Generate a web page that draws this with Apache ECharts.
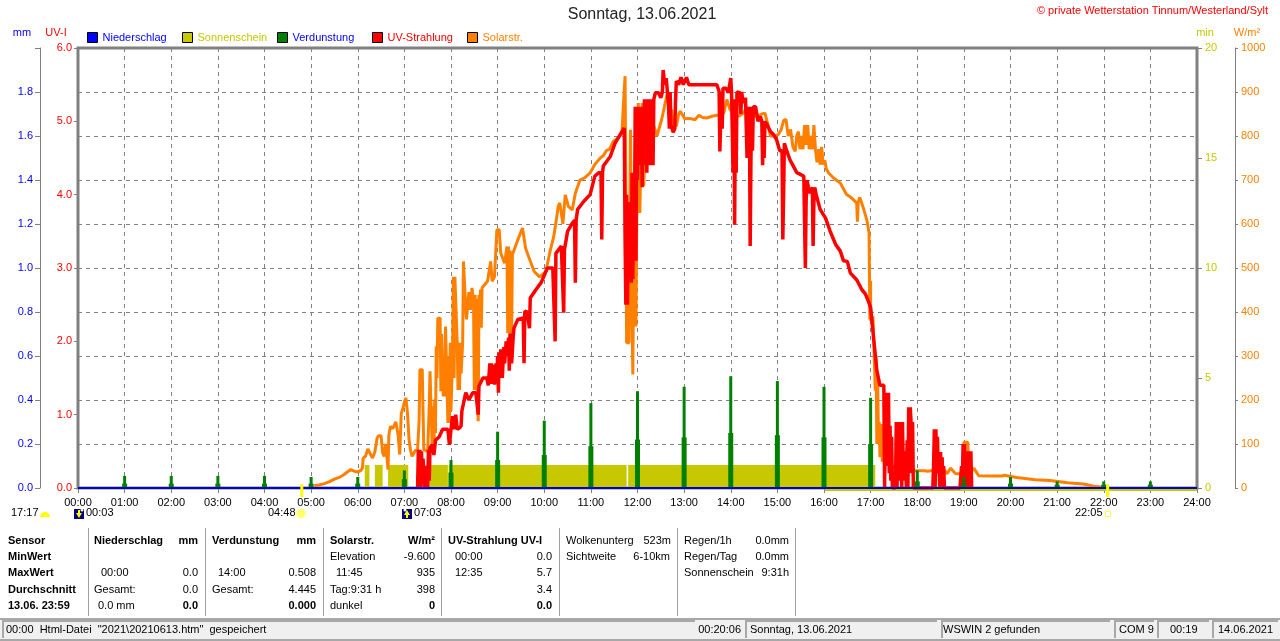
<!DOCTYPE html>
<html><head><meta charset="utf-8">
<style>html,body{margin:0;padding:0;background:#fff}#c{width:1280px;height:641px}</style>
<script src="https://cdn.jsdelivr.net/npm/echarts@6/dist/echarts.min.js"></script>
</head><body><div id="c"></div>
<script>
// minutes since midnight, W/m2
const solarPoints = [[304,5],[310,7],[317,10],[323,14],[330,20],[336,24],[342,30],[347,37],[351,42],[356,38],[360,36],[364,40],[366,45],[367,68],[370,72],[373,89],[376,78],[379,68],[382,82],[385,114],[387,119],[390,119],[392,80],[394,72],[396,100],[399,42],[400,120],[402,140],[405,135],[409,150],[412,120],[414,76],[416,170],[418,180],[420,195],[422,205],[424,170],[426,110],[428,85],[430,72],[434,85],[437,87],[439,155],[440,269],[443,269],[445,87],[450,83],[452,186],[453,265],[455,265],[456,80],[457,186],[458,80],[459,201],[460,125],[461,322],[462,250],[463,386],[466,386],[467,220],[468,350],[470,208],[471,300],[472,208],[473,367],[475,367],[476,148],[477,300],[478,148],[479,330],[480,175],[482,300],[483,480],[484,250],[485,480],[487,480],[488,330],[489,223],[490,330],[491,223],[492,330],[493,260],[495,330],[496,515],[498,515],[499,405],[500,383],[501,405],[503,445],[505,405],[507,455],[509,420],[510,223],[511,439],[512,223],[513,430],[514,200],[515,152],[516,439],[517,364],[518,451],[519,364],[520,455],[527,470],[531,515],[533,470],[536,480],[539,587],[542,587],[544,534],[549,511],[552,549],[553,352],[554,549],[555,352],[556,540],[558,352],[559,530],[566,564],[572,591],[576,545],[579,530],[587,492],[594,480],[602,492],[608,542],[612,570],[615,602],[618,640],[620,648],[624,600],[627,666],[631,640],[636,632],[640,670],[646,700],[652,705],[659,716],[665,735],[672,750],[676,755],[680,767],[684,770],[689,788],[695,795],[700,807],[702,875],[704,936],[705,670],[706,330],[709,330],[710,600],[711,814],[712,500],[714,258],[715,500],[717,746],[718,367],[719,600],[721,875],[723,625],[726,875],[728,686],[732,875],[738,840],[745,800],[751,837],[755,870],[758,894],[760,880],[762,826],[764,860],[766,825],[768,830],[770,822],[773,850],[775,856],[781,839],[787,840],[794,837],[799,847],[804,842],[809,841],[816,845],[822,847],[828,848],[831,852],[835,883],[837,885],[839,860],[845,848],[850,845],[855,850],[859,860],[862,850],[865,845],[874,845],[880,850],[884,852],[888,825],[891,800],[896,800],[901,803],[905,815],[908,835],[911,838],[914,800],[917,815],[920,775],[923,765],[925,800],[927,810],[929,770],[931,800],[933,770],[935,825],[937,780],[939,825],[941,770],[943,800],[945,770],[947,825],[949,770],[951,740],[953,770],[955,735],[957,775],[959,735],[961,745],[963,725],[966,716],[972,705],[981,693],[985,680],[989,667],[995,660],[1002,648],[1003,605],[1004,650],[1006,660],[1010,640],[1015,610],[1018,580],[1019,383],[1020,471],[1020,380],[1023,390],[1025,392],[1026,221],[1027,300],[1028,100],[1029,250],[1030,130],[1031,150],[1032,70],[1033,140],[1034,145],[1035,60],[1036,90],[1038,51],[1043,73],[1047,51],[1054,43],[1066,40],[1080,39],[1090,39],[1091,43],[1093,38],[1114,43],[1118,32],[1123,45],[1129,33],[1138,32],[1140,104],[1145,104],[1147,32],[1153,45],[1159,28],[1176,27],[1189,27],[1192,29],[1208,24],[1232,19],[1251,17],[1273,12],[1294,9],[1307,4],[1322,1]];
// minutes since midnight, UV index
const uvPoints = [[437,0],[438,0.52],[439,0],[440,0.52],[441,0],[442,0.5],[443,0.15],[444,0.4],[446,0],[449,0.3],[450,0],[451,0.52],[452,0.1],[453,0.55],[456,0.59],[458,0.45],[460,0.65],[465,0.7],[469,0.8],[476,0.8],[478,0.59],[480,0.8],[482,0.98],[484,0.8],[486,1.0],[488,0.8],[491,0.82],[493,0.85],[494,1.05],[499,1.3],[503,1.2],[508,1.3],[512,1.3],[515,1.0],[516,1.39],[521,1.5],[526,1.5],[528,1.4],[530,1.7],[531,1.42],[532,1.7],[533,1.42],[535,1.68],[536,1.41],[538,1.7],[539,1.45],[540,1.8],[541,1.3],[542,1.85],[543,1.5],[544,1.89],[546,1.5],[548,1.92],[549,1.7],[551,2.0],[553,1.8],[554,2.05],[555,1.6],[556,2.11],[558,1.7],[560,2.05],[561,2.18],[566,2.3],[573,2.32],[574,1.7],[575,2.41],[578,2.4],[581,2.18],[582,2.59],[589,2.7],[596,2.8],[604,3.0],[611,3.0],[613,3.0],[614,2.0],[615,3.2],[622,3.3],[624,3.3],[625,2.39],[626,3.25],[630,3.5],[636,3.61],[639,3.65],[640,2.8],[641,3.65],[643,3.8],[651,3.91],[659,4.0],[665,4.25],[670,4.3],[673,4.3],[674,3.39],[675,4.3],[676,4.39],[685,4.52],[691,4.7],[700,4.86],[703,4.91],[704,3.43],[705,2.5],[706,4.0],[707,2.5],[708,3.6],[709,3.9],[710,3.0],[711,3.9],[712,2.8],[713,4.3],[714,2.85],[715,4.3],[716,3.1],[717,5.2],[718,3.1],[719,5.2],[720,4.2],[721,5.2],[722,4.4],[723,5.2],[724,4.6],[725,5.2],[726,4.1],[727,5.2],[728,4.5],[729,5.3],[730,4.4],[731,5.3],[732,4.3],[733,5.3],[734,4.5],[735,5.3],[736,4.4],[737,5.3],[738,4.4],[739,5.3],[740,4.4],[741,5.3],[743,5.39],[747,5.39],[750,5.32],[752,5.4],[753,5.7],[755,5.5],[757,5.59],[759,5.59],[760,5.2],[761,4.9],[762,5.4],[763,4.95],[766,4.85],[768,4.9],[769,5.3],[770,5.55],[773,5.5],[776,5.6],[779,5.5],[783,5.6],[786,5.5],[822,5.5],[825,5.41],[826,4.59],[827,4.59],[828,5.4],[829,4.9],[830,5.45],[834,5.45],[837,5.39],[840,5.59],[841,5.4],[842,5.4],[843,4.3],[844,5.3],[845,3.59],[846,5.2],[847,4.3],[848,5.4],[852,5.39],[853,5.1],[854,5.4],[856,5.25],[859,5.32],[860,5.3],[861,4.5],[862,5.2],[863,4.5],[864,5.2],[865,3.3],[866,4.5],[867,5.2],[868,4.6],[869,5.2],[872,5.2],[875,5.0],[878,5.07],[880,5.0],[881,4.4],[882,4.9],[883,4.5],[884,5.0],[887,4.95],[891,4.86],[895,4.82],[899,4.75],[903,4.6],[906,4.6],[907,3.39],[908,4.0],[909,4.7],[912,4.6],[916,4.48],[920,4.4],[925,4.3],[929,4.28],[934,4.25],[935,4.25],[936,3.0],[937,3.9],[938,4.2],[940,4.1],[942,4.02],[945,4.1],[946,3.3],[947,3.9],[948,4.1],[950,4.0],[955,3.8],[962,3.68],[968,3.5],[975,3.32],[981,3.23],[985,3.1],[990,3.09],[994,2.93],[1002,2.84],[1009,2.7],[1013,2.65],[1017,2.55],[1020,2.46],[1022,2.24],[1025,1.92],[1028,1.6],[1032,1.4],[1037,1.4],[1038,0],[1039,1.3],[1040,0.3],[1041,1.3],[1042,0.3],[1043,1.3],[1044,0.2],[1045,0.85],[1046,0.1],[1047,0.7],[1048,0],[1052,0],[1053,0.9],[1054,0],[1055,0.9],[1056,0.2],[1057,0.4],[1058,0.1],[1059,0.9],[1060,0],[1061,0.9],[1062,0.2],[1063,0.1],[1065,0.5],[1066,0],[1067,0.65],[1068,0],[1069,1.1],[1070,0.2],[1071,1.1],[1072,0.9],[1073,0.2],[1074,0.9],[1075,0],[1100,0],[1101,0.3],[1102,0.8],[1103,0],[1104,0.8],[1105,0.2],[1106,0.7],[1107,0.2],[1108,0.33],[1109,0],[1110,0.49],[1111,0],[1112,0.42],[1113,0],[1114,0.3],[1115,0],[1135,0],[1136,0.15],[1137,0.3],[1138,0],[1139,0.6],[1140,0],[1141,0.6],[1142,0.2],[1143,0.5],[1144,0],[1145,0.5],[1146,0],[1147,0.5],[1148,0],[1149,0.5],[1150,0]];
// hour, narrow bar top, wide base top (mm)
const evapHours = [1,2,3,4,5,6,7,8,9,10,11,12,13,14,15,16,17,18,19,20,21,22,23];
const evapTops  = [.055,.055,.055,.055,.05,.05,.08,.127,.256,.306,.386,.44,.46,.508,.486,.46,.41,.08,.05,.05,.03,.03,.03];
const evapBases = [.02,.02,.02,.02,.02,.02,.04,.07,.127,.15,.19,.22,.23,.25,.24,.23,.2,.03,.02,.02,.015,.015,.015];
// sunshine intervals (start minute, end minute, minutes of sun per minute)
const sunStarts = [369,382,399,438,452,477,708];
const sunEnds   = [375,392,425,441,476,706,1026];
const sunLevels = [1.05,1.05,1.05,1.05,1.05,1.05,1.05];
const rainPoints = [[0,0],[1440,0]];
const sunriseMinute = 288, sunsetMinute = 1325;

const FF = '"Liberation Sans",Arial,sans-serif';
const C = {blue:'#0000ff',olive:'#c8c800',green:'#008000',red:'#ff0000',orange:'#ff8000',grid:'#808080',yellow:'#ffff00'};
const legendItems = [['Niederschlag',C.blue,C.blue,87],['Sonnenschein',C.olive,C.olive,182],['Verdunstung',C.green,C.blue,277],['UV-Strahlung',C.red,C.red,372],['Solarstr.',C.orange,C.orange,467]];

const g = [];
function T(x,y,text,o){o=o||{};g.push({type:'text',silent:true,z:50,style:{x,y,text,fill:o.c||'#000',font:(o.b?'bold ':'')+(o.s||11)+'px '+FF,textAlign:o.a||'left',textVerticalAlign:'middle'}});}
function R(x,y,w,h,fill,stroke){g.push({type:'rect',silent:true,z:40,shape:{x,y,width:w,height:h},style:{fill:fill,stroke:stroke||null,lineWidth:1}});}
T(642,15,'Sonntag, 13.06.2021',{a:'center',s:16,c:'#222'});
T(1268,11,'© private Wetterstation Tinnum/Westerland/Sylt',{a:'right',c:C.red,s:11});
T(22,33,'mm',{c:C.blue,a:'center'});T(56,33,'UV-I',{c:C.red,a:'center'});T(1205,33,'min',{c:C.olive,a:'center'});T(1247,33,'W/m²',{c:C.orange,a:'center'});
// sun/moon row
T(11,513,'17:17');g.push({type:'sector',silent:true,z:50,shape:{cx:45,cy:517,r:5,r0:0,startAngle:Math.PI,endAngle:2*Math.PI},style:{fill:C.yellow}});
function moon(x,up){R(x,509,10,10,'#000080');g.push({type:'polygon',silent:true,z:51,shape:{points:up?[[x+5,510],[x+8,515],[x+6,515],[x+6,518],[x+4,518],[x+4,515],[x+2,515]]:[[x+5,518],[x+8,513],[x+6,513],[x+6,510],[x+4,510],[x+4,513],[x+2,513]]},style:{fill:'#ffff00'}});g.push({type:'circle',silent:true,z:52,shape:{cx:x+(up?3:8),cy:510,r:1.5},style:{fill:'#fff'}});}
moon(74,false);T(86,513,'00:03');T(268,513,'04:48');
g.push({type:'circle',silent:true,z:50,shape:{cx:301,cy:513.5,r:4.5},style:{fill:'#ffff66',stroke:'#ffffaa',lineWidth:1.5}});
moon(402,true);T(414,513,'07:03');T(1075,513,'22:05');
R(1105.5,511.5,5,5,'#fff','#ffff44');
// table
const seps=[88,205,323,441,559,677,795];seps.forEach(x=>R(x,528,1,88,'#a0a0a0'));
const rowY=[541,557,573,590,606];
const leftCol=[[8,0,'Sensor',1],[8,1,'MinWert',1],[8,2,'MaxWert',1],[8,3,'Durchschnitt',1],[8,4,'13.06. 23:59',1],
[94,0,'Niederschlag',1],[101,2,'00:00'],[94,3,'Gesamt:'],[98,4,'0.0 mm'],
[212,0,'Verdunstung',1],[218,2,'14:00'],[212,3,'Gesamt:'],
[330,0,'Solarstr.',1],[330,1,'Elevation'],[336,2,'11:45'],[330,3,'Tag:9:31 h'],[330,4,'dunkel'],
[448,0,'UV-Strahlung UV-I',1],[455,1,'00:00'],[455,2,'12:35'],
[566,0,'Wolkenunterg'],[566,1,'Sichtweite'],
[684,0,'Regen/1h'],[684,1,'Regen/Tag'],[684,2,'Sonnenschein']];
leftCol.forEach(r=>T(r[0],rowY[r[1]],r[2],{b:r[3]}));
const rightCol=[[198,0,'mm',1],[198,2,'0.0'],[198,3,'0.0'],[198,4,'0.0',1],
[316,0,'mm',1],[316,2,'0.508'],[316,3,'4.445'],[316,4,'0.000',1],
[435,0,'W/m²',1],[435,1,'-9.600'],[435,2,'935'],[435,3,'398'],[435,4,'0',1],
[552,1,'0.0'],[552,2,'5.7'],[552,3,'3.4'],[552,4,'0.0',1],
[671,0,'523m'],[670,1,'6-10km'],[789,0,'0.0mm'],[789,1,'0.0mm'],[789,2,'9:31h']];
rightCol.forEach(r=>T(r[0],rowY[r[1]],r[2],{b:r[3],a:'right'}));
// status bar
R(0,618,1280,2,'#a8a8a8');R(0,620,1280,19,'#f0f0f0');R(0,639,1280,2,'#a8a8a8');
[[2,693],[745,192],[941,169],[1114,40],[1157,52],[1212,66]].forEach(p=>{R(p[0],621,2,17,'#a8a8a8');R(p[0],620,p[1],2,'#a8a8a8');});
T(6,630,'00:00  Html-Datei  "2021\\20210613.htm"  gespeichert');T(741,630,'00:20:06',{a:'right'});T(750,630,'Sonntag, 13.06.2021');T(943,630,'WSWIN 2 gefunden');T(1119,630,'COM 9');T(1170,630,'00:19');T(1218,630,'14.06.2021');

const lineBase={type:'line',showSymbol:false,silent:true,animation:false,connectNulls:false};
const fmt1=v=>v.toFixed(1);
const option={
 animation:false,backgroundColor:'#fff',
 textStyle:{fontFamily:FF},
 legend:legendItems.map(l=>({left:l[3],top:32,itemWidth:10,itemHeight:10,itemGap:3,selectedMode:false,padding:0,
   data:[{name:l[0],icon:'rect',itemStyle:{color:l[1],borderColor:'#000',borderWidth:1,opacity:1},textStyle:{color:l[2],fontSize:11,fontFamily:FF}}]})),
 grid:{left:78,right:83,top:48,bottom:153,show:true,borderColor:C.grid,borderWidth:3,backgroundColor:'transparent',containLabel:false},
 xAxis:{type:'value',min:0,max:1440,interval:60,axisLine:{show:false},axisTick:{show:true,length:5,lineStyle:{color:C.grid}},
   axisLabel:{color:'#000',fontSize:11,margin:9,fontFamily:FF,hideOverlap:false,showMinLabel:true,showMaxLabel:true,formatter:v=>String(v/60).padStart(2,'0')+':00'},
   splitLine:{show:true,lineStyle:{color:C.grid,type:[4,4],width:1}}},
 yAxis:[
  {type:'value',position:'left',min:0,max:6,interval:1,axisLine:{show:false},axisTick:{show:true,length:4,lineStyle:{color:C.grid}},splitLine:{show:false},
   axisLabel:{color:C.red,fontSize:11,margin:6,formatter:fmt1,showMinLabel:true,showMaxLabel:true}},
  {type:'value',position:'left',offset:38,min:0,max:2,interval:.2,axisLine:{show:true,lineStyle:{color:C.grid,width:1}},axisTick:{show:true,length:5,lineStyle:{color:C.grid}},
   splitLine:{show:true,lineStyle:{color:C.grid,type:[4,4],width:1}},
   axisLabel:{color:C.blue,fontSize:11,margin:7,formatter:v=>v>=2?'':v.toFixed(1),showMinLabel:true,showMaxLabel:true}},
  {type:'value',position:'right',min:0,max:20,interval:5,axisLine:{show:false},axisTick:{show:true,length:5,lineStyle:{color:C.grid}},splitLine:{show:false},
   axisLabel:{color:C.olive,fontSize:11,margin:8,showMinLabel:true,showMaxLabel:true}},
  {type:'value',position:'right',offset:38,min:0,max:1000,interval:100,axisLine:{show:true,lineStyle:{color:C.grid,width:1}},axisTick:{show:true,length:3,lineStyle:{color:C.grid}},splitLine:{show:false},
   axisLabel:{color:C.orange,fontSize:11,margin:6,formatter:v=>String(v),showMinLabel:true,showMaxLabel:true}}
 ],
 graphic:g,
 series:[
  {name:'Sonnenschein',type:'custom',yAxisIndex:2,silent:true,z:2,clip:false,itemStyle:{color:C.olive},
   data:sunStarts.map((s,i)=>[s,sunEnds[i],sunLevels[i]]),
   renderItem:(p,api)=>{const a=api.coord([api.value(0),api.value(2)]),b=api.coord([api.value(1),0]);return {type:'rect',shape:{x:a[0],y:a[1],width:b[0]-a[0],height:b[1]-a[1]},style:{fill:C.olive}};}},
  Object.assign({},lineBase,{name:'sunBase',yAxisIndex:2,clip:false,z:2,data:[[961,-0.07],[1440,-0.07]],lineStyle:{color:C.olive,width:3}}),
  Object.assign({},lineBase,{name:'Solarstr.',yAxisIndex:3,z:3,data:solarPoints,lineStyle:{color:C.orange,width:3,join:'bevel'},itemStyle:{color:C.orange}}),
  Object.assign({},lineBase,{name:'UV-Strahlung',yAxisIndex:0,z:4,data:uvPoints,lineStyle:{color:C.red,width:3.5,join:'bevel'},itemStyle:{color:C.red}}),
  {name:'Verdunstung',type:'custom',yAxisIndex:1,silent:true,z:5,itemStyle:{color:C.green},
   data:evapHours.map((h,i)=>[h*60,evapTops[i],evapBases[i]]),
   renderItem:(p,api)=>{const x=api.coord([api.value(0),0]);const t=api.coord([api.value(0),api.value(1)]),m=api.coord([api.value(0),api.value(2)]);
     return {type:'group',children:[{type:'rect',shape:{x:x[0]-1.5,y:t[1],width:3,height:x[1]-t[1]},style:{fill:C.green}},{type:'rect',shape:{x:x[0]-2.5,y:m[1],width:5,height:x[1]-m[1]},style:{fill:C.green}}]};}},
  Object.assign({},lineBase,{name:'Niederschlag',yAxisIndex:1,clip:false,z:6,data:rainPoints,lineStyle:{color:'#0000c8',width:2},itemStyle:{color:C.blue}}),
  Object.assign({},lineBase,{name:'sunrise',yAxisIndex:2,clip:false,z:7,data:[[sunriseMinute,-0.41],[sunriseMinute,0.18],[sunriseMinute,null],[sunsetMinute,-0.41],[sunsetMinute,0.18]],lineStyle:{color:C.yellow,width:3}})
 ]
};
echarts.init(document.getElementById('c'),null,{renderer:'canvas'}).setOption(option);
</script></body></html>
